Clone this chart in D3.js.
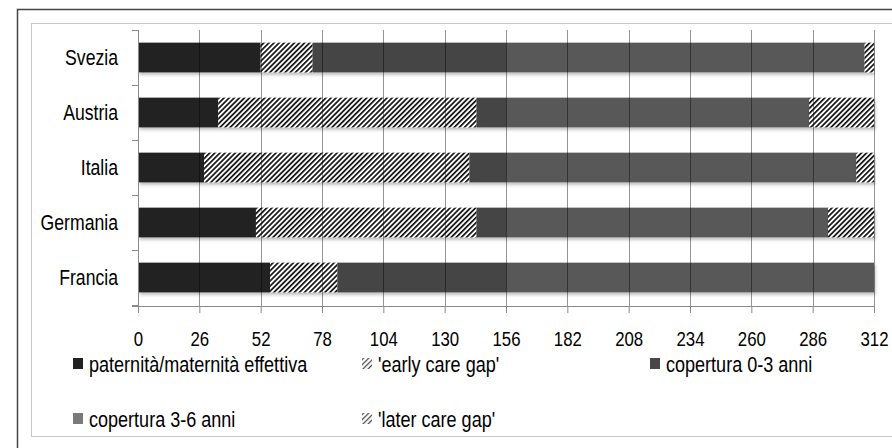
<!DOCTYPE html>
<html>
<head>
<meta charset="utf-8">
<script src="https://cdn.jsdelivr.net/npm/d3@7"></script>
<style>
  body { margin: 0; background: #fff; }
  svg text { font-family: "Liberation Sans", Arial, sans-serif; fill: #000; }
</style>
</head>
<body>
<svg id="chart" width="892" height="448"></svg>
<script>
// values (days)
const categories = ["Svezia", "Austria", "Italia", "Germania", "Francia"];
const paternita = [52, 34, 28, 50, 56];
const earlyGap = [22, 109.5, 112.5, 93.5, 28.5];
const cop03 = [82, 12.5, 15.5, 12.5, 71.5];
const cop36 = [152, 128.5, 148.5, 136.5, 156];
const laterGap = [4, 27.5, 7.5, 19.5, 0];
const tickValues = [0, 26, 52, 78, 104, 130, 156, 182, 208, 234, 260, 286, 312];
const seriesNames = ["paternità/maternità effettiva", "'early care gap'", "copertura 0-3 anni",
                     "copertura 3-6 anni", "'later care gap'"];

const keys = ["pat", "early", "c03", "c36", "later"];
const rows = categories.map((c, i) => ({
  cat: c, pat: paternita[i], early: earlyGap[i], c03: cop03[i], c36: cop36[i], later: laterGap[i]
}));

const fills = { pat: "#222222", early: "url(#hatch)", c03: "#444444", c36: "#595959", later: "url(#hatch)" };
const legendFills = { pat: "#222222", early: "url(#hatchSmall)", c03: "#474747", c36: "#7a7a7a", later: "url(#hatchSmall)" };
const narrow = 0.82; // no narrow font installed, squeeze text horizontally

const svg = d3.select("#chart");

// frames
svg.append("rect").attr("x", 17.5).attr("y", 9.5).attr("width", 900).attr("height", 460)
  .attr("fill", "none").attr("stroke", "#444").attr("stroke-width", 1.5);
svg.append("rect").attr("x", 31.5).attr("y", 23.5).attr("width", 900).attr("height", 413)
  .attr("fill", "none").attr("stroke", "#c8c8c8");

const defs = svg.append("defs");
defs.append("pattern").attr("id", "hatch").attr("patternUnits", "userSpaceOnUse")
  .attr("width", 3.6).attr("height", 3.6).attr("patternTransform", "rotate(45)")
  .call(p => {
    p.append("rect").attr("width", 3.6).attr("height", 3.6).attr("fill", "#fff");
    p.append("rect").attr("width", 1.7).attr("height", 3.6).attr("fill", "#111");
  });
defs.append("pattern").attr("id", "hatchSmall").attr("patternUnits", "userSpaceOnUse")
  .attr("width", 3.6).attr("height", 3.6).attr("patternTransform", "rotate(45)")
  .call(p => {
    p.append("rect").attr("width", 3.6).attr("height", 3.6).attr("fill", "#fff");
    p.append("rect").attr("width", 1.2).attr("height", 3.6).attr("fill", "#444");
  });
defs.append("filter").attr("id", "shadow").attr("x", "-5%").attr("y", "-30%").attr("width", "115%").attr("height", "170%")
  .append("feDropShadow").attr("dx", 1.5).attr("dy", 2.5).attr("stdDeviation", 1.6)
  .attr("flood-color", "#000").attr("flood-opacity", 0.25);

const x = d3.scaleLinear().domain([0, 312]).range([138, 874]);
const y = d3.scaleBand().domain(categories).range([30, 305]).paddingInner(0.46).paddingOuter(0.23);

const stacked = d3.stack().keys(keys)(rows);

// bars
svg.append("g").selectAll("g").data(stacked).join("g")
  .attr("fill", d => fills[d.key])
  .selectAll("rect").data(d => d).join("rect")
  .attr("x", d => x(d[0]))
  .attr("y", d => y(d.data.cat))
  .attr("width", d => x(d[1]) - x(d[0]))
  .attr("height", y.bandwidth())
  .attr("filter", "url(#shadow)");

// vertical gridlines drawn over the bars
svg.append("g").selectAll("line").data(tickValues).join("line")
  .attr("x1", d => Math.round(x(d)) + 0.5).attr("x2", d => Math.round(x(d)) + 0.5)
  .attr("y1", 30).attr("y2", 306)
  .attr("stroke", "#000").attr("stroke-opacity", 0.42);

// x axis
const xAxis = svg.append("g").attr("transform", "translate(0,306)")
  .call(d3.axisBottom(x).tickValues(tickValues).tickSize(7).tickPadding(18).tickSizeOuter(0));
xAxis.select(".domain").attr("stroke", "#8a8a8a").attr("d", "M132,0.5H874");
xAxis.selectAll(".tick line").attr("stroke", "#8a8a8a");
xAxis.selectAll("text").attr("font-size", 20.5).attr("fill", "#000")
  .attr("transform", `scale(${narrow},1)`);

// y axis with ticks on the band boundaries
const yAxis = svg.append("g");
yAxis.append("line").attr("x1", 138.5).attr("x2", 138.5).attr("y1", 30).attr("y2", 306).attr("stroke", "#8a8a8a");
yAxis.selectAll(".bt").data(categories.concat([null])).join("line").attr("class", "bt")
  .attr("x1", 132).attr("x2", 138)
  .attr("y1", (d, i) => 30.5 + i * y.step()).attr("y2", (d, i) => 30.5 + i * y.step())
  .attr("stroke", "#8a8a8a");
yAxis.selectAll("text").data(categories).join("text")
  .attr("transform", d => `translate(118,${y(d) + y.bandwidth() / 2}) scale(${narrow},1)`)
  .attr("text-anchor", "end").attr("dominant-baseline", "central")
  .attr("font-size", 21.5).text(d => d);

// legend
const legendPos = [[73, 364], [362, 364], [650, 364], [73, 419], [362, 419]];
const legend = svg.append("g").selectAll("g").data(keys).join("g")
  .attr("transform", (d, i) => `translate(${legendPos[i][0]},${legendPos[i][1]})`);
legend.append("rect").attr("x", 0).attr("y", -6).attr("width", 10).attr("height", 11)
  .attr("fill", d => legendFills[d]);
legend.append("text").attr("transform", `translate(16,0) scale(${narrow},1)`)
  .attr("dominant-baseline", "central")
  .attr("font-size", 22).text((d, i) => seriesNames[i]);
</script>
</body>
</html>
